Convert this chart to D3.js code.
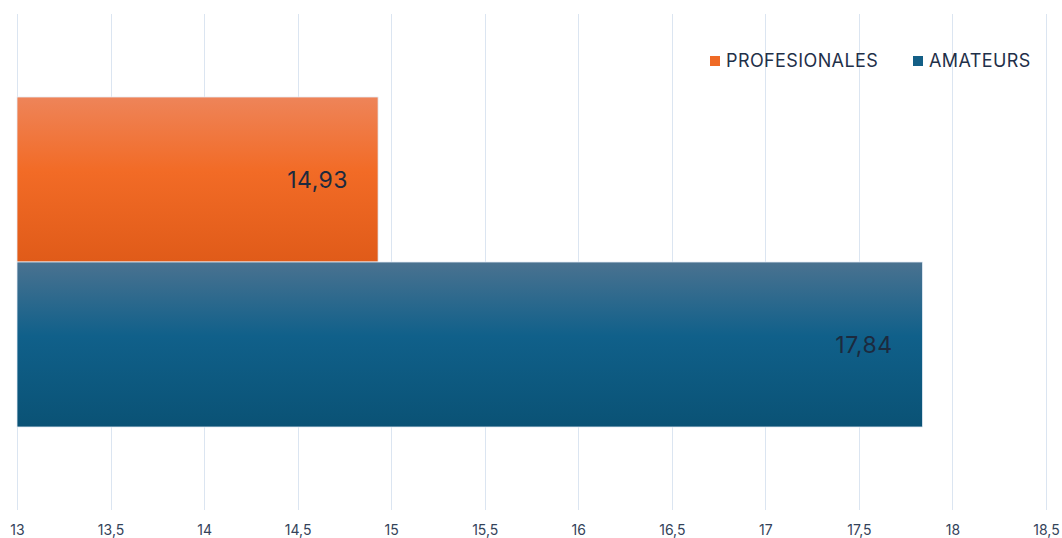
<!DOCTYPE html>
<html><head><meta charset="utf-8">
<script src="https://cdn.jsdelivr.net/npm/d3@7"></script>
<style>html,body{margin:0;padding:0;background:#fff;}svg{display:block;}</style>
</head><body>
<svg id="c" width="1062" height="538"></svg>
<script>
const categories = ["Grupo"];
const seriesNames = ["PROFESIONALES", "AMATEURS"];
const seriesValues = [14.93, 17.84];
const valueLabels = ["14,93", "17,84"];
const tickValues = [13, 13.5, 14, 14.5, 15, 15.5, 16, 16.5, 17, 17.5, 18, 18.5];
const tickLabels = ["13", "13,5", "14", "14,5", "15", "15,5", "16", "16,5", "17", "17,5", "18", "18,5"];

const svg = d3.select("#c");
const plot = {left: 17, right: 1046, top: 14, bottom: 510};
const font = "Inter, 'Liberation Sans', Arial, sans-serif";

const x = d3.scaleLinear().domain([13, 18.5]).range([plot.left, plot.right]);
const y0 = d3.scaleBand().domain(categories).range([plot.top, plot.bottom]).paddingInner(0).paddingOuter(0.2515);
const y1 = d3.scaleBand().domain(seriesNames).range([0, y0.bandwidth()]).padding(0);

const defs = svg.append("defs");
const grads = [
  {id: "gOrange", stops: [["0%", "#ee8459"], ["45%", "#f26b26"], ["100%", "#e05b19"]]},
  {id: "gBlue", stops: [["0%", "#4a7290"], ["45%", "#10608a"], ["100%", "#0a5275"]]}
];
grads.forEach(g => {
  const lg = defs.append("linearGradient").attr("id", g.id).attr("x1", 0).attr("x2", 0).attr("y1", 0).attr("y2", 1);
  g.stops.forEach(s => lg.append("stop").attr("offset", s[0]).attr("stop-color", s[1]));
});
const fills = ["url(#gOrange)", "url(#gBlue)"];
const legendColors = ["#ef6a26", "#135f86"];

// gridlines
svg.append("g").selectAll("line").data(tickValues).join("line")
  .attr("x1", d => Math.round(x(d)) + 0.5).attr("x2", d => Math.round(x(d)) + 0.5)
  .attr("y1", plot.top).attr("y2", plot.bottom)
  .attr("stroke", "#dbe5f1").attr("stroke-width", 1);

// axis
const axis = d3.axisBottom(x).tickValues(tickValues).tickFormat((d, i) => tickLabels[i]).tickSize(0).tickPadding(0);
const ax = svg.append("g").attr("transform", `translate(0,${plot.bottom})`).call(axis);
ax.select(".domain").remove();
ax.selectAll("text").attr("font-family", font).attr("font-size", 14).attr("fill", "#34435a").attr("dy", "25px");

// bars
const g = svg.append("g").attr("transform", `translate(0,${y0(categories[0])})`);
const data = seriesNames.map((s, i) => ({s, v: seriesValues[i], label: valueLabels[i], fill: fills[i]}));
g.selectAll("rect").data(data).join("rect")
  .attr("x", x(13)).attr("y", d => y1(d.s))
  .attr("width", d => x(d.v) - x(13)).attr("height", y1.bandwidth())
  .attr("fill", d => d.fill).attr("stroke", "#e6eef7").attr("stroke-width", 0.8);

g.selectAll("text.v").data(data).join("text").attr("class", "v")
  .attr("x", d => x(d.v) - 30).attr("y", d => y1(d.s) + y1.bandwidth() / 2 + 1)
  .attr("text-anchor", "end").attr("dominant-baseline", "central")
  .attr("font-family", font).attr("font-size", 23).attr("letter-spacing", 0.5).attr("fill", "#1c2a3e")
  .text(d => d.label);

// legend
const legend = svg.append("g");
const legendX = [710, 913];
seriesNames.forEach((s, i) => {
  legend.append("rect").attr("x", legendX[i]).attr("y", 56).attr("width", 10).attr("height", 10).attr("fill", legendColors[i]);
  legend.append("text").attr("x", legendX[i] + 16).attr("y", 60).attr("dominant-baseline", "central")
    .attr("font-family", font).attr("font-size", 18).attr("letter-spacing", 0.4).attr("fill", "#1f3049").text(s);
});
</script>
</body></html>
